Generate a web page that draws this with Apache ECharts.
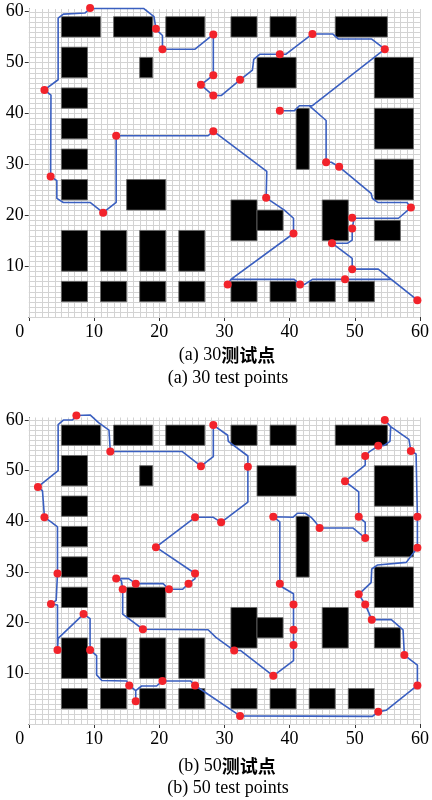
<!DOCTYPE html>
<html><head><meta charset="utf-8">
<script src="https://cdn.jsdelivr.net/npm/echarts@6/dist/echarts.min.js"></script>
<style>html,body{margin:0;padding:0;background:#fff}#c{width:432px;height:800px}</style>
</head><body><div id="c"></div>
<script>
// Obstacles (data coordinates)
const obsX0=[5,13,21,31,37,47,5,17,35,53,5,41,53,5,5,53,5,15,31,35,45,53,5,11,17,23,5,11,17,23,31,37,43,49];
const obsY0=[55,55,55,55,55,55,47,47,45,43,41,29,33,35,29,23,23,21,15,17,15,15,9,9,9,9,3,3,3,3,3,3,3,3];
const obsX1=[11,19,27,35,41,55,9,19,41,59,9,43,59,9,9,59,9,21,35,39,49,57,9,15,21,27,9,15,21,27,35,41,47,53];
const obsY1=[59,59,59,59,59,59,53,51,51,51,45,41,41,39,33,31,27,27,23,21,23,19,17,17,17,17,7,7,7,7,7,7,7,7];

// Panel (a): 30 test points
const ptsAX=[2.4,9.4,19.5,20.5,28.3,28.3,26.4,28.3,32.4,38.5,43.5,54.6,38.5,45.6,47.6,58.6,49.6,49.6,46.5,49.6,59.6,48.5,41.6,30.5,40.6,36.4,28.3,13.4,11.4,3.35];
const ptsAY=[44.6,60.7,56.6,52.6,55.5,47.5,45.6,43.5,46.6,51.6,55.6,52.6,40.5,30.4,29.5,21.5,19.5,17.4,14.5,9.4,3.3,7.4,6.4,6.4,16.4,23.4,36.5,35.6,20.5,27.6];
const pathAX=[2.4,4.5,4.5,5.3,8.6,9.4,17.6,19.2,19.5,20.0,20.5,20.5,25.5,28.3,28.3,26.4,28.3,29.5,32.4,34.3,34.5,35.4,38.5,39.4,43.5,46.6,47.5,52.6,54.6,43.5,41.5,40.7,38.5,40.7,41.5,43.0,45.6,45.6,46.4,47.6,52.5,52.7,53.5,58.0,58.6,56.7,49.9,49.6,49.6,49.6,48.9,46.5,49.6,49.6,53.6,59.6,55.6,48.5,43.5,42.3,41.6,40.7,31.0,30.5,31.0,40.6,40.6,39.2,36.4,36.5,28.3,27.5,13.4,13.4,11.4,9.4,5.3,4.3,4.3,3.35,3.4,2.4];
const pathAY=[44.6,46.6,58.7,59.5,59.7,60.6,60.6,59.0,56.6,55.9,55.3,52.6,52.6,55.5,47.5,45.6,43.5,43.5,46.6,48.5,50.6,51.6,51.6,51.6,55.6,55.6,54.6,54.6,52.6,41.5,41.5,40.5,40.5,40.5,41.5,41.5,38.6,30.4,30.4,29.5,24.3,23.3,22.5,22.5,21.5,19.4,19.4,19.5,17.4,15.1,14.5,14.5,11.5,9.4,9.4,3.3,7.4,7.4,7.4,6.4,6.4,7.4,7.4,6.4,7.4,16.4,19.4,21.0,23.4,28.6,36.5,35.6,35.6,22.5,20.5,22.5,22.5,23.3,26.8,27.6,43.6,44.6];

// Panel (b): 50 test points
const ptsBX=[7.3,12.5,26.4,28.3,33.6,29.5,25.5,19.5,25.5,24.5,21.5,16.4,13.4,14.4,17.5,31.5,37.5,40.6,40.6,40.6,38.5,37.5,44.6,51.6,50.6,48.5,51.6,53.6,54.6,58.6,59.6,59.6,50.6,51.6,52.6,57.6,59.6,53.6,32.4,25.5,20.5,16.4,15.4,9.4,8.4,4.4,3.4,4.4,2.4,1.4];
const ptsBY=[60.9,53.8,50.9,59.0,50.8,39.8,40.8,34.9,29.7,27.7,26.6,27.7,28.7,26.6,18.7,14.5,9.5,15.6,18.6,23.6,27.7,40.9,38.7,36.7,40.9,47.9,52.9,54.9,60.0,53.9,40.9,34.8,25.6,23.6,20.6,13.6,7.6,2.4,1.6,7.6,8.5,4.5,7.6,14.6,21.7,14.6,23.7,29.7,40.8,46.8];
const pathBX=[7.3,9.4,10.7,12.3,12.5,23.5,26.4,28.3,28.3,30.5,30.6,33.6,33.6,33.6,29.5,28.3,25.5,19.5,25.5,25.5,24.5,23.6,21.5,20.6,16.4,15.3,13.4,14.2,14.4,14.4,17.5,27.5,28.7,31.5,32.5,37.5,40.6,40.6,40.6,40.6,40.6,38.9,38.5,38.5,37.5,40.5,41.2,42.4,43.3,44.0,44.6,49.7,51.6,51.6,50.6,50.6,48.5,51.6,51.6,52.2,53.6,54.5,55.4,55.5,54.6,55.5,58.3,58.6,59.4,59.6,59.6,57.9,53.5,52.6,52.5,50.6,51.6,52.6,55.6,57.4,57.6,59.6,59.6,54.8,53.6,52.7,32.4,25.5,24.8,20.5,19.6,17.3,16.4,16.4,16.4,15.4,15.0,11.2,10.4,10.4,9.4,9.4,8.4,4.5,4.4,4.4,3.4,4.2,4.4,4.4,3.4,2.4,2.1,1.4,4.5,4.5,5.3,6.7,7.3];
const pathBY=[60.9,61.0,59.5,58.0,53.8,53.8,50.9,52.8,59.0,57.0,55.8,52.9,50.8,43.8,39.8,40.8,40.8,34.9,29.7,28.7,27.7,26.6,26.6,27.7,27.7,28.7,28.7,28.3,26.6,21.7,18.7,18.6,17.1,14.5,14.5,9.5,12.5,15.6,18.6,23.6,25.7,27.0,27.7,39.9,40.9,40.8,41.6,41.6,40.8,39.8,38.7,38.7,36.7,39.8,40.9,45.8,47.9,51.1,52.9,53.7,54.9,55.0,55.8,58.7,60.0,58.7,56.2,53.9,53.3,40.9,34.8,31.9,31.4,30.6,27.9,25.6,23.6,20.6,20.6,18.6,13.6,11.6,7.6,2.7,2.4,1.5,1.6,7.6,8.5,8.5,7.5,7.5,6.6,4.5,6.6,7.6,8.5,8.6,9.7,13.5,14.6,20.8,21.7,16.9,14.6,23.5,23.7,24.4,29.7,38.9,39.9,40.8,46.0,46.8,50.0,59.1,60.0,60.0,60.9];

const xTicks=[0,10,20,30,40,50,60];
const yTicks=[10,20,30,40,50,60];
const gridVals=Array.from({length:61},(_,i)=>i);
const captionsCN=['(a) 30','(b) 50'];
const captionCNSuffix='测试点';
const captionsEN=['(a) 30 test points','(b) 50 test points'];

const zip=(a,b)=>a.map((v,i)=>[v,b[i]]);
const obsData=obsX0.map((v,i)=>[v,obsY0[i],obsX1[i],obsY1[i]]);
const SERIF='"Liberation Serif","Times New Roman",serif';

function gridRender(params, api){
  const v=api.value(0);
  const a=api.coord([v,0]), b=api.coord([v,60.5]);
  const c=api.coord([0,v]), d=api.coord([60,v]);
  const xr=Math.round(a[0])+0.5, yr=Math.round(c[1])+0.5;
  return {type:'group',children:[
    {type:'line',shape:{x1:xr,y1:a[1],x2:xr,y2:b[1]},style:{stroke:'#d3d3d3',lineWidth:1}},
    {type:'line',shape:{x1:c[0],y1:yr,x2:d[0],y2:yr},style:{stroke:'#d3d3d3',lineWidth:1}}
  ]};
}
function obsRender(params, api){
  const p0=api.coord([api.value(0),api.value(3)]);
  const p1=api.coord([api.value(2),api.value(1)]);
  return {type:'rect',shape:{x:p0[0],y:p0[1],width:p1[0]-p0[0],height:p1[1]-p0[1]},
    style:{fill:'#000',stroke:'#6a6a6a',lineWidth:0.8}};
}

const grids=[{left:28.8,width:391.2,top:9,height:308},{left:28.8,width:391.2,top:417.5,height:306.5}];
function xAx(i){return {gridIndex:i,type:'value',min:0,max:60,
  axisLine:{show:true,lineStyle:{color:'#333',width:1}},
  axisTick:{show:true,customValues:xTicks,length:4,lineStyle:{color:'#333'}},
  splitLine:{show:false},
  axisLabel:{customValues:xTicks,margin:6,color:'#000',fontFamily:SERIF,fontSize:18,
    formatter:v=>v===0?'{z|0}':String(v),
    rich:{z:{padding:[0,18,0,0],fontFamily:SERIF,fontSize:18,color:'#000'}}}};}
function yAx(i){return {gridIndex:i,type:'value',min:0,max:60.5,
  axisLine:{show:true,lineStyle:{color:'#333',width:1}},
  axisTick:{show:true,customValues:yTicks,length:4,lineStyle:{color:'#333'}},
  splitLine:{show:false},
  axisLabel:{customValues:yTicks,margin:5,color:'#000',fontFamily:SERIF,fontSize:18}};}

const series=[];
[[pathAX,pathAY,ptsAX,ptsAY],[pathBX,pathBY,ptsBX,ptsBY]].forEach((p,i)=>{
  series.push({type:'custom',xAxisIndex:i,yAxisIndex:i,renderItem:gridRender,data:gridVals.map(v=>[v]),silent:true,z:1});
  series.push({type:'custom',xAxisIndex:i,yAxisIndex:i,renderItem:obsRender,data:obsData,silent:true,z:2});
  series.push({type:'line',xAxisIndex:i,yAxisIndex:i,data:zip(p[0],p[1]),showSymbol:false,symbol:'none',clip:false,
    lineStyle:{color:'#3a5fc0',width:1.6},z:3});
  series.push({type:'scatter',xAxisIndex:i,yAxisIndex:i,data:zip(p[2],p[3]),symbolSize:8,clip:false,
    itemStyle:{color:'#f2232b',opacity:1},z:4});
});

const capY=[[355,378],[766,788]];
const graphic=[];
captionsCN.forEach((t,i)=>{
  graphic.push({type:'text',x:227,y:capY[i][0],style:{text:'{a|'+t+'}{b|'+captionCNSuffix+'}',
    textAlign:'center',textVerticalAlign:'middle',
    rich:{a:{fontFamily:SERIF,fontSize:18,fill:'#000'},b:{fontFamily:'"Noto Sans CJK SC"',fontWeight:'bold',fontSize:18,fill:'#000'}}}});
  graphic.push({type:'text',x:228,y:capY[i][1],style:{text:captionsEN[i],font:'18px '+SERIF,fill:'#000',
    textAlign:'center',textVerticalAlign:'middle'}});
});

const chart=echarts.init(document.getElementById('c'),null,{renderer:'canvas'});
chart.setOption({animation:false,backgroundColor:'#fff',grid:grids,
  xAxis:[xAx(0),xAx(1)],yAxis:[yAx(0),yAx(1)],series:series,graphic:graphic});
</script></body></html>
